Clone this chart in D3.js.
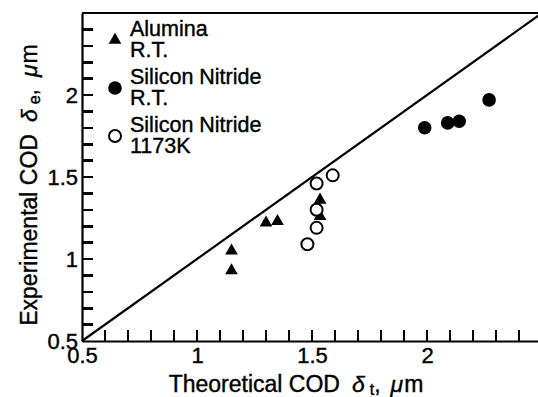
<!DOCTYPE html>
<html>
<head>
<meta charset="utf-8">
<script src="https://cdn.jsdelivr.net/npm/d3@7"></script>
<style>
  html, body { margin: 0; padding: 0; background: #fff; }
  svg { display: block; }
  text { font-family: "Liberation Sans", Arial, Helvetica, sans-serif; fill: #000; }
</style>
</head>
<body>
<svg id="chart" width="538" height="397" xmlns="http://www.w3.org/2000/svg"></svg>
<script>
// ---- data ----
const aluminaX = [1.15, 1.15, 1.30, 1.35, 1.535, 1.535];
const aluminaY = [1.05, 0.93, 1.22, 1.23, 1.36, 1.26];
const sinRTX = [1.99, 2.09, 2.14, 2.27];
const sinRTY = [1.80, 1.83, 1.84, 1.97];
const sinHTX = [1.52, 1.59, 1.52, 1.52, 1.48];
const sinHTY = [1.46, 1.51, 1.30, 1.19, 1.09];
const lineX = [0.5, 2.5];
const lineY = [0.5, 2.5];
const majorTicks = [0.5, 1, 1.5, 2];
const majorLabels = ["0.5", "1", "1.5", "2"];
const minorTicks = [0.6, 0.7, 0.8, 0.9, 1, 1.1, 1.2, 1.3, 1.4, 1.5, 1.6, 1.7, 1.8, 1.9, 2, 2.1, 2.2, 2.3, 2.4];
const legendLabels = [["Alumina", "R.T."], ["Silicon Nitride", "R.T."], ["Silicon Nitride", "1173K"]];
const legendKinds = ["triangle", "filled", "open"];

// ---- layout ----
const svg = d3.select("#chart");
const x = d3.scaleLinear().domain([0.5, 2.5]).range([82, 542]);
const y = d3.scaleLinear().domain([0.5, 2.5]).range([341, 13]);
const TICK = 11;

// frame + inward ticks as one path built from the scales
const p = d3.path();
minorTicks.forEach(v => {
  p.moveTo(x(v), y(0.5)); p.lineTo(x(v), y(0.5) - TICK);
  p.moveTo(x(0.5), y(v)); p.lineTo(x(0.5) + TICK, y(v));
});
svg.append("path").attr("d", p.toString())
  .attr("fill", "none").attr("stroke", "#000").attr("stroke-width", 2.6)
  .attr("shape-rendering", "crispEdges");

const xAxis = d3.axisBottom(x).tickValues(majorTicks).tickSize(0)
  .tickPadding(6).tickFormat((d, i) => majorLabels[i]);
const yAxis = d3.axisLeft(y).tickValues(majorTicks).tickSize(0)
  .tickPadding(4).tickFormat((d, i) => majorLabels[i]);

const gx = svg.append("g").attr("transform", `translate(0,${y(0.5)})`).call(xAxis);
const gy = svg.append("g").attr("transform", `translate(${x(0.5)},0)`).call(yAxis);
[gx, gy].forEach(g => {
  g.select(".domain").attr("stroke", "#000").attr("stroke-width", 2.2);
  g.selectAll(".tick text").attr("font-size", 22).attr("font-family", "Liberation Sans, Arial, sans-serif")
    .attr("fill", "#000").attr("stroke", "#000").attr("stroke-width", 0.4);
});

// top border
svg.append("line")
  .attr("x1", x(0.5)).attr("x2", x(2.5))
  .attr("y1", y(2.5)).attr("y2", y(2.5))
  .attr("stroke", "#000").attr("stroke-width", 2.2);

// y = x reference line
svg.append("path")
  .datum(lineX.map((v, i) => [v, lineY[i]]))
  .attr("d", d3.line().x(d => x(d[0])).y(d => y(d[1])))
  .attr("fill", "none").attr("stroke", "#000").attr("stroke-width", 2.2);

// markers
const tri = d3.symbol().type(d3.symbolTriangle).size(70);
svg.append("g").selectAll("path")
  .data(aluminaX.map((v, i) => [v, aluminaY[i]]))
  .join("path")
  .attr("d", tri)
  .attr("transform", d => `translate(${x(d[0])},${y(d[1])})`)
  .attr("fill", "#000");

svg.append("g").selectAll("circle")
  .data(sinRTX.map((v, i) => [v, sinRTY[i]]))
  .join("circle")
  .attr("cx", d => x(d[0])).attr("cy", d => y(d[1])).attr("r", 6.8)
  .attr("fill", "#000");

svg.append("g").selectAll("circle")
  .data(sinHTX.map((v, i) => [v, sinHTY[i]]))
  .join("circle")
  .attr("cx", d => x(d[0])).attr("cy", d => y(d[1])).attr("r", 6)
  .attr("fill", "#fff").attr("stroke", "#000").attr("stroke-width", 2);

// legend
const lg = svg.append("g");
legendLabels.forEach((lines, i) => {
  const base = 36 + i * 48;
  const kind = legendKinds[i];
  const sx = 115, sy = base + 4;
  if (kind === "triangle") {
    lg.append("path").attr("d", tri).attr("transform", `translate(${sx},${sy})`).attr("fill", "#000");
  } else if (kind === "filled") {
    lg.append("circle").attr("cx", sx).attr("cy", sy).attr("r", 6.8).attr("fill", "#000");
  } else {
    lg.append("circle").attr("cx", sx).attr("cy", sy).attr("r", 6)
      .attr("fill", "#fff").attr("stroke", "#000").attr("stroke-width", 2);
  }
  lines.forEach((t, j) => {
    lg.append("text").attr("x", 130).attr("y", base + j * 21)
      .attr("font-size", 21.5).attr("stroke", "#000").attr("stroke-width", 0.4)
      .text(t);
  });
});

// axis titles
const xt = svg.append("text")
  .attr("x", 296).attr("y", 392).attr("text-anchor", "middle")
  .attr("font-size", 23).attr("stroke", "#000").attr("stroke-width", 0.4);
xt.append("tspan").text("Theoretical COD");
xt.append("tspan").attr("dx", 12).attr("font-style", "italic").text("δ");
xt.append("tspan").attr("dx", 5).attr("dy", 3).attr("font-size", 16).text("t");
xt.append("tspan").attr("dy", -3).text(",");
xt.append("tspan").attr("dx", 10).attr("font-style", "italic").text("μ");
xt.append("tspan").attr("dx", 1).text("m");

const yt = svg.append("text")
  .attr("transform", "translate(37,185) rotate(-90)").attr("text-anchor", "middle")
  .attr("font-size", 23).attr("stroke", "#000").attr("stroke-width", 0.4);
yt.append("tspan").text("Experimental COD");
yt.append("tspan").attr("dx", 12).attr("font-style", "italic").text("δ");
yt.append("tspan").attr("dx", 5).attr("dy", 3).attr("font-size", 16).text("e");
yt.append("tspan").attr("dy", -3).text(",");
yt.append("tspan").attr("dx", 12).attr("font-style", "italic").text("μ");
yt.append("tspan").attr("dx", 1).text("m");
</script>
</body>
</html>
